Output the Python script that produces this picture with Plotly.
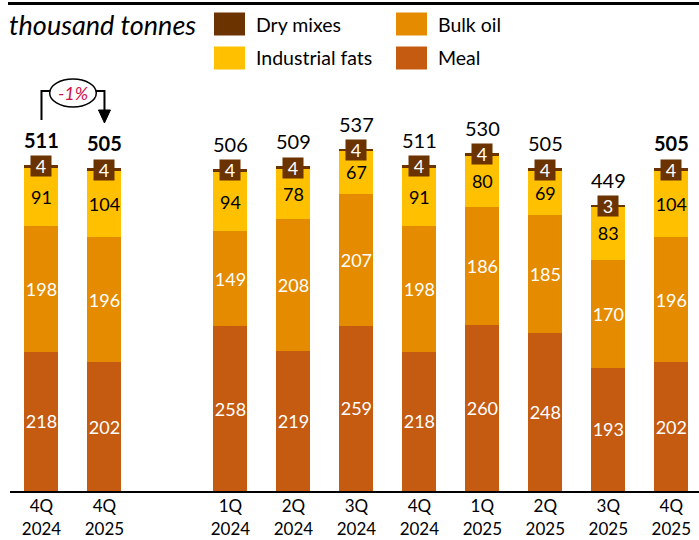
import plotly.graph_objects as go

periods = ["4Q<br>2024", "4Q<br>2025", "1Q<br>2024", "2Q<br>2024", "3Q<br>2024", "4Q<br>2024",
           "1Q<br>2025", "2Q<br>2025", "3Q<br>2025", "4Q<br>2025"]
meal = [218, 202, 258, 219, 259, 218, 260, 248, 193, 202]
bulk_oil = [198, 196, 149, 208, 207, 198, 186, 185, 170, 196]
industrial_fats = [91, 104, 94, 78, 67, 91, 80, 69, 83, 104]
dry_mixes = [4, 4, 4, 4, 4, 4, 4, 4, 3, 4]
totals = [511, 505, 506, 509, 537, 511, 530, 505, 449, 505]
bold_totals = [0, 1, 9]
change_label = "-1%"

C_MEAL = "#C55A11"
C_BULK = "#E58B00"
C_FATS = "#FFC000"
C_DRY = "#6B3300"
FONT = "Lato"

# category slots: comparison pair, one empty slot, then the quarterly series
xpos = [i if i < 2 else i + 1 for i in range(len(periods))]

W, H = 699, 540
ML, MR, MT, MB = 10, 0, 0, 49
YMAX = 770
PH = H - MT - MB


def ypx(py):
    """pixel y (from top) -> data y"""
    return (MT + PH - py) / PH * YMAX


def ypaper(py):
    return (MT + PH - py) / PH


def xpaper(px):
    return (px - ML) / (W - ML - MR)


fig = go.Figure()
series = [("Meal", meal, C_MEAL, "white"), ("Bulk oil", bulk_oil, C_BULK, "white"),
          ("Industrial fats", industrial_fats, C_FATS, "black"), ("Dry mixes", dry_mixes, C_DRY, "white")]
for name, vals, col, tcol in series:
    show_text = name != "Dry mixes"
    fig.add_trace(go.Bar(
        x=xpos, y=vals, name=name, marker=dict(color=col, line=dict(width=0)),
        text=[str(v) for v in vals] if show_text else None,
        textposition="inside" if show_text else "none",
        insidetextanchor="middle", textangle=0,
        textfont=dict(family=FONT, size=18, color=tcol),
        showlegend=False, hoverinfo="skip",
    ))

annotations = []
shapes = []
for i, p in enumerate(xpos):
    stack = meal[i] + bulk_oil[i] + industrial_fats[i] + dry_mixes[i]
    annotations.append(dict(x=p, y=stack - dry_mixes[i] / 2, text=str(dry_mixes[i]), showarrow=False,
                            bgcolor=C_DRY, borderpad=1, width=18, height=18,
                            font=dict(family=FONT, size=18, color="white"),
                            xanchor="center", yanchor="middle"))
    t = str(totals[i])
    if i in bold_totals:
        t = "<b>" + t + "</b>"
    annotations.append(dict(x=p, y=stack, text=t, showarrow=False, yanchor="bottom", yshift=11,
                            font=dict(family=FONT, size=20, color="black")))

# unit label
annotations.append(dict(xref="paper", yref="paper", x=xpaper(7), y=ypaper(24), xanchor="left", yanchor="middle",
                        text="<i>thousand tonnes</i>", showarrow=False,
                        font=dict(family=FONT, size=27, color="black")))

# legend (manual)
legend_items = [("Dry mixes", C_DRY, 214, 24), ("Industrial fats", C_FATS, 214, 58),
                ("Bulk oil", C_BULK, 396, 24), ("Meal", C_MEAL, 396, 58)]
for name, col, lx, ly in legend_items:
    shapes.append(dict(type="rect", xref="paper", yref="paper", x0=xpaper(lx), x1=xpaper(lx + 31),
                       y0=ypaper(ly + 11.5), y1=ypaper(ly - 11.5), fillcolor=col, line=dict(width=0)))
    annotations.append(dict(xref="paper", yref="paper", x=xpaper(lx + 40), y=ypaper(ly), text=name,
                            showarrow=False, xanchor="left", yanchor="middle",
                            font=dict(family=FONT, size=19.5, color="black")))

# top rule
shapes.append(dict(type="line", xref="paper", yref="paper", x0=xpaper(8), x1=1.0, y0=ypaper(3.5), y1=ypaper(3.5),
                   line=dict(color="black", width=3)))

# change bracket between the comparison bars
x0, x1 = xpos[0], xpos[1]
shapes.append(dict(type="path", xref="x", yref="y",
                   path=f"M {x0} {ypx(120)} L {x0} {ypx(91)} L {x1} {ypx(91)} L {x1} {ypx(110)}",
                   line=dict(color="black", width=2)))
shapes.append(dict(type="path", xref="x", yref="y",
                   path=f"M {x1 - 0.095} {ypx(110)} L {x1 + 0.095} {ypx(110)} L {x1} {ypx(123)} Z",
                   fillcolor="black", line=dict(color="black", width=1)))
xm = (x0 + x1) / 2
shapes.append(dict(type="circle", xref="x", yref="y", x0=xm - 0.37, x1=xm + 0.37, y0=ypx(107), y1=ypx(79),
                   fillcolor="white", line=dict(color="black", width=1.5)))
annotations.append(dict(x=xm, y=ypx(93), text="<i>" + change_label + "</i>", showarrow=False,
                        font=dict(family=FONT, size=18, color="#D0104C"), xanchor="center", yanchor="middle"))

fig.update_layout(
    width=W, height=H, margin=dict(l=ML, r=MR, t=MT, b=MB, autoexpand=False),
    barmode="stack", bargap=0.46,
    plot_bgcolor="white", paper_bgcolor="white",
    uniformtext=dict(minsize=18, mode="show"),
    xaxis=dict(range=[-0.5, 10.44], tickvals=xpos, ticktext=periods, showline=True, linecolor="black",
               linewidth=2, ticks="", showgrid=False, zeroline=False, automargin=False,
               ticklabelstandoff=-1,
               tickfont=dict(family=FONT, size=17, color="black")),
    yaxis=dict(range=[0, YMAX], visible=False, showgrid=False, zeroline=False, automargin=False),
    annotations=annotations, shapes=shapes,
    font=dict(family=FONT),
)
fig.write_html("out.html", config={"displayModeBar": False},
               post_script="document.body.style.margin='0';document.body.style.padding='0';")
